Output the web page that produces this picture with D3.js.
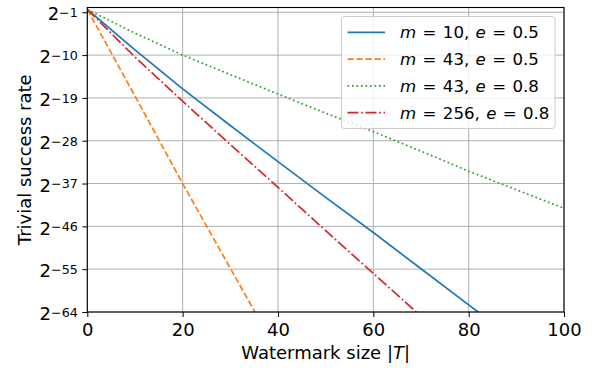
<!DOCTYPE html>
<html>
<head>
<meta charset="utf-8">
<script src="https://cdn.jsdelivr.net/npm/d3@7"></script>
<style>
  body { margin: 0; background: #fff; }
  svg { font-family: "DejaVu Sans", sans-serif; }
</style>
</head>
<body>
<svg id="chart"></svg>
<script>
// watermark size |T|
const sizes = [0, 10, 20, 30, 40, 50, 60, 70, 80, 90, 100]
// log2 of the trivial success rate
const m10e05 = [-0.4, -8.9, -17.1, -24.8, -32.4, -39.9, -47.3, -54.9, -62.5, -70.1, -77.7]
const m43e05 = [-0.4, -18.6, -37.0, -54.8, -72.6]
const m43e08 = [-0.4, -5.4, -10.0, -14.1, -18.2, -22.2, -26.1, -30.2, -34.4, -38.3, -42.2]
const m256e08 = [-0.4, -10.4, -19.7, -28.8, -37.8, -46.9, -55.9, -64.9, -73.9]

const xTicks = [0, 20, 40, 60, 80, 100]
const yTickExps = [-1, -10, -19, -28, -37, -46, -55, -64]

const series = [
  { m: '10', e: '0.5', vals: m10e05, color: '#1f77b4', dash: null },
  { m: '43', e: '0.5', vals: m43e05, color: '#ff7f0e', dash: '6.3,2.7' },
  { m: '43', e: '0.8', vals: m43e08, color: '#2ca02c', dash: '1.7,2.8' },
  { m: '256', e: '0.8', vals: m256e08, color: '#d62728', dash: '10.9,2.7,1.7,2.7' }
]

const width = 595
const height = 368
const margin = { top: 7.5, right: 31, bottom: 56, left: 87.3 }

const svg = d3.select('#chart')
  .attr('width', width)
  .attr('height', height)

const x = d3.scaleLinear()
  .domain([0, 100])
  .range([margin.left, width - margin.right])

const y = d3.scaleLog()
  .base(2)
  .domain([2 ** -64, 1])
  .range([height - margin.bottom, margin.top])

// grid
const grid = svg.append('g')
grid.selectAll('.gx')
  .data(xTicks)
  .join('line')
  .attr('x1', d => x(d)).attr('x2', d => x(d))
  .attr('y1', margin.top).attr('y2', height - margin.bottom)
  .attr('stroke', '#b0b0b0').attr('stroke-width', 1)
grid.selectAll('.gy')
  .data(yTickExps)
  .join('line')
  .attr('x1', margin.left).attr('x2', width - margin.right)
  .attr('y1', d => y(2 ** d)).attr('y2', d => y(2 ** d))
  .attr('stroke', '#b0b0b0').attr('stroke-width', 1)

svg.append('clipPath')
  .attr('id', 'plotClip')
  .append('rect')
  .attr('x', margin.left)
  .attr('y', margin.top)
  .attr('width', width - margin.right - margin.left)
  .attr('height', height - margin.bottom - margin.top)

const line = d3.line()
  .x(d => x(d[0]))
  .y(d => y(2 ** d[1]))

const plot = svg.append('g').attr('clip-path', 'url(#plotClip)')
series.forEach(s => {
  plot.append('path')
    .datum(s.vals.map((v, i) => [sizes[i], v]))
    .attr('fill', 'none')
    .attr('stroke', s.color)
    .attr('stroke-width', 1.7)
    .attr('stroke-dasharray', s.dash)
    .attr('d', line)
})

// axes
const xAxis = d3.axisBottom(x)
  .tickValues(xTicks)
  .tickSize(5)
  .tickPadding(6)
  .tickFormat(d3.format('d'))

svg.append('g')
  .attr('transform', `translate(0,${height - margin.bottom})`)
  .call(xAxis)
  .call(g => g.select('.domain').remove())
  .call(g => g.selectAll('text').attr('font-size', 18).attr('fill', '#000').attr('font-family', 'DejaVu Sans'))
  .call(g => g.selectAll('line').attr('stroke', '#000'))

const yAxis = d3.axisLeft(y)
  .tickValues(yTickExps.map(e => 2 ** e))
  .tickSize(5)
  .tickPadding(4.5)
  .tickFormat(() => '')

const yG = svg.append('g')
  .attr('transform', `translate(${margin.left},0)`)
  .call(yAxis)
  .call(g => g.select('.domain').remove())
  .call(g => g.selectAll('line').attr('stroke', '#000'))

yG.selectAll('.tick text')
  .attr('font-family', 'DejaVu Sans')
  .attr('fill', '#000')
  .attr('dy', 7.7)
  .each(function (d) {
    const t = d3.select(this)
    const exp = Math.round(Math.log2(d))
    t.append('tspan').attr('font-size', 18).text('2')
    t.append('tspan').attr('font-size', 12.7).attr('dy', -3.4)
      .text('\u2212' + Math.abs(exp))
  })

// frame
svg.append('rect')
  .attr('x', margin.left)
  .attr('y', margin.top)
  .attr('width', width - margin.right - margin.left)
  .attr('height', height - margin.bottom - margin.top)
  .attr('fill', 'none')
  .attr('stroke', '#000')
  .attr('stroke-width', 1.1)

// axis labels
svg.append('text')
  .attr('x', (margin.left + width - margin.right) / 2)
  .attr('y', 359)
  .attr('text-anchor', 'middle')
  .attr('font-size', 18)
  .call(t => {
    t.append('tspan').text('Watermark size |')
    t.append('tspan').attr('font-style', 'italic').text('T')
    t.append('tspan').text('|')
  })

svg.append('text')
  .attr('transform', `translate(31,${(margin.top + height - margin.bottom) / 2}) rotate(-90)`)
  .attr('text-anchor', 'middle')
  .attr('font-size', 18)
  .text('Trivial success rate')

// legend
const legend = svg.append('g')
legend.append('rect')
  .attr('x', 341.5).attr('y', 16.5)
  .attr('width', 213.5).attr('height', 112)
  .attr('rx', 3)
  .attr('fill', '#fff').attr('fill-opacity', 0.8)
  .attr('stroke', '#cccccc').attr('stroke-width', 1)

series.forEach((s, i) => {
  const cy = 32.3 + i * 26.8
  legend.append('line')
    .attr('x1', 347.5).attr('x2', 385)
    .attr('y1', cy).attr('y2', cy)
    .attr('stroke', s.color)
    .attr('stroke-width', 1.7)
    .attr('stroke-dasharray', s.dash)
  const t = legend.append('text')
    .attr('x', 400)
    .attr('y', cy + 6)
    .attr('font-size', 16.6)
    .attr('word-spacing', 1.1)
  t.append('tspan').attr('font-style', 'italic').text('m')
  t.append('tspan').text(' = ' + s.m + ', ')
  t.append('tspan').attr('font-style', 'italic').text('e')
  t.append('tspan').text(' = ' + s.e)
})
</script>
</body>
</html>
